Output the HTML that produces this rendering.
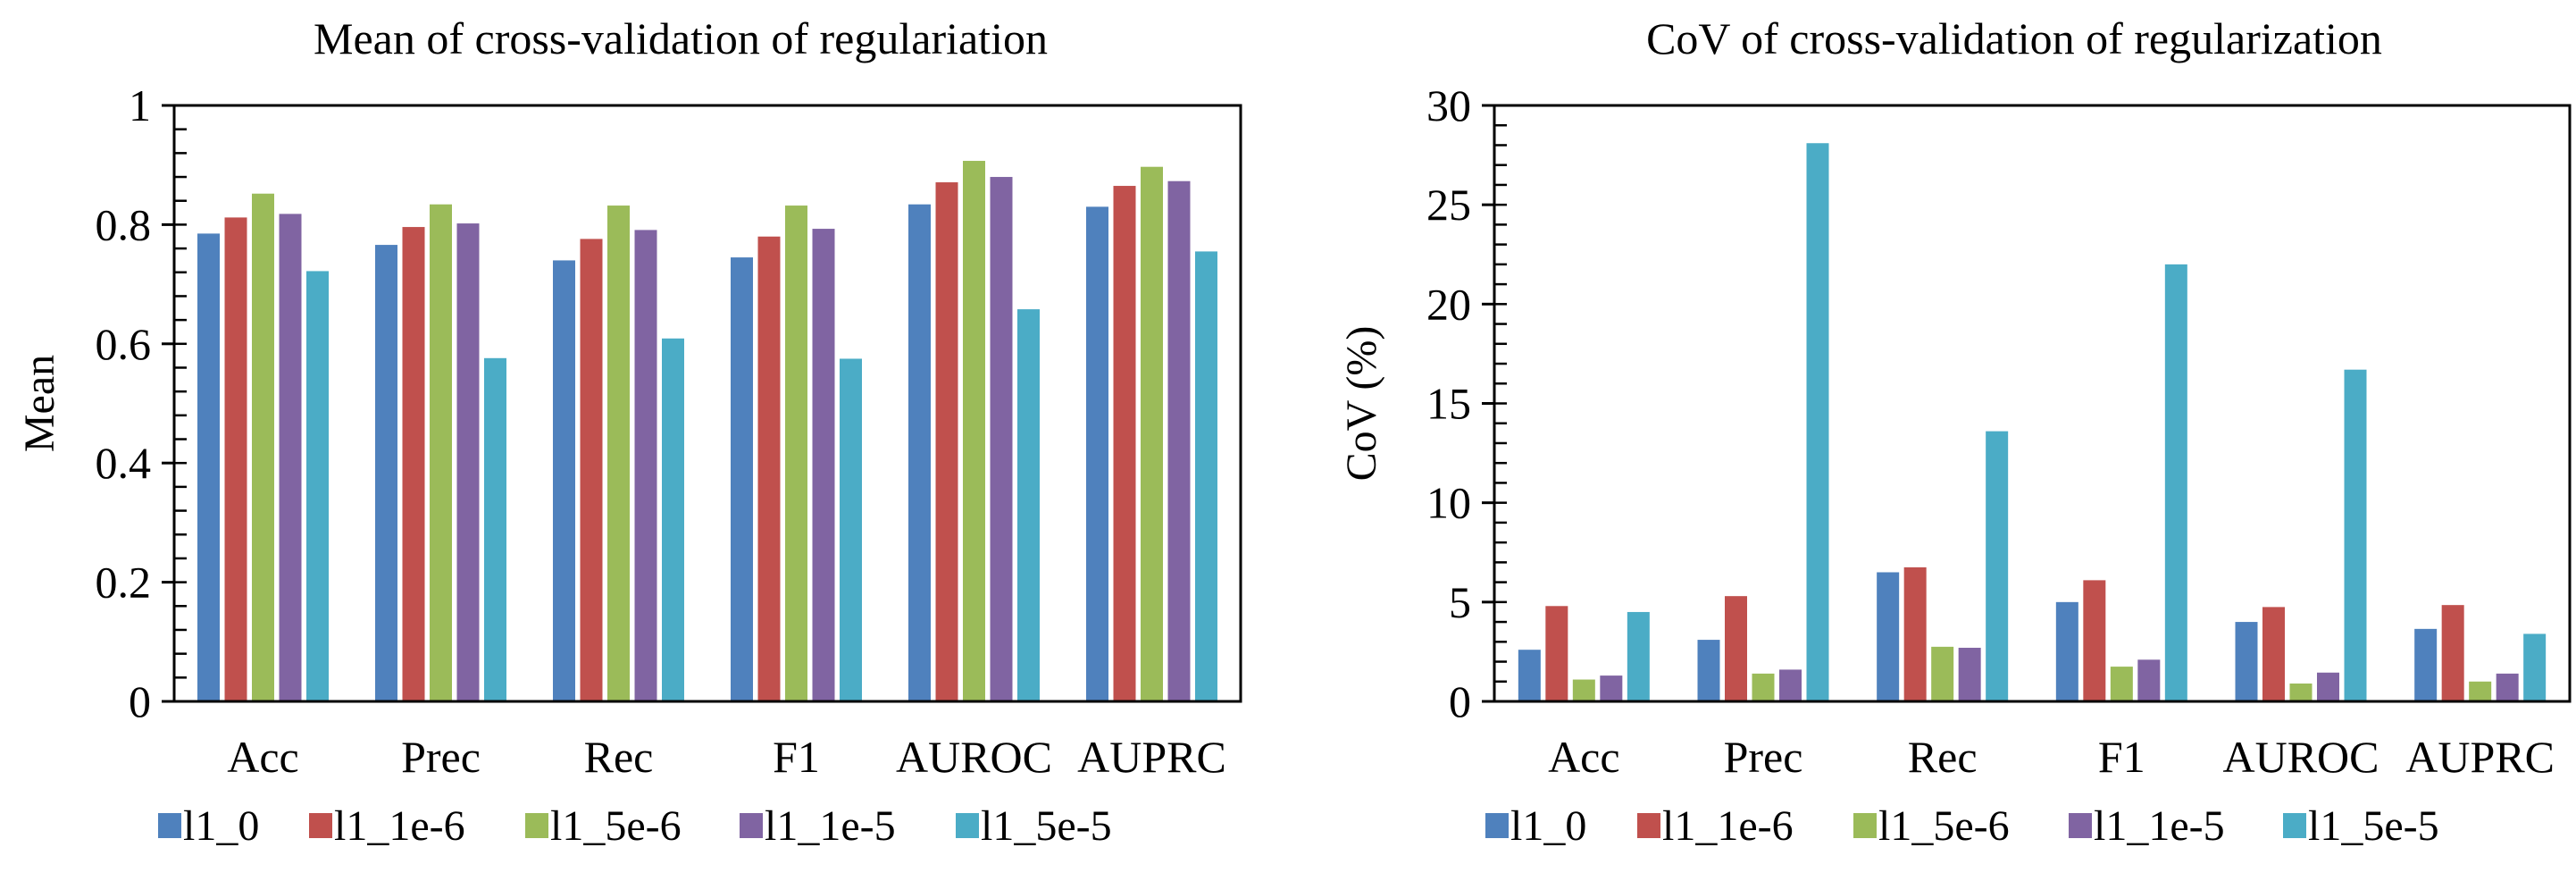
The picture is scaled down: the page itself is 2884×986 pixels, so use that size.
<!DOCTYPE html>
<html><head><meta charset="utf-8"><style>
html,body{margin:0;padding:0;background:#fff}
svg{display:block;font-family:"Liberation Serif",serif}
</style></head><body>
<svg id="chart" width="2884" height="986" viewBox="0 0 2884 986" xmlns="http://www.w3.org/2000/svg"></svg>
<script>
const categories = ["Acc","Prec","Rec","F1","AUROC","AUPRC"];
const seriesNames = ["l1_0","l1_1e-6","l1_5e-6","l1_1e-5","l1_5e-5"];
const colors = ["#4F81BD","#C0504D","#9BBB59","#8064A2","#4BACC6"];
const meanL1_0   = [0.785,0.766,0.740,0.745,0.834,0.830];
const meanL1_1e6 = [0.812,0.796,0.776,0.780,0.871,0.865];
const meanL1_5e6 = [0.852,0.834,0.832,0.832,0.907,0.897];
const meanL1_1e5 = [0.818,0.802,0.791,0.793,0.880,0.873];
const meanL1_5e5 = [0.722,0.576,0.609,0.575,0.658,0.755];
const covL1_0   = [2.6,3.1,6.5,5.0,4.0,3.65];
const covL1_1e6 = [4.8,5.3,6.75,6.1,4.75,4.85];
const covL1_5e6 = [1.1,1.4,2.75,1.75,0.9,1.0];
const covL1_1e5 = [1.3,1.6,2.7,2.1,1.45,1.4];
const covL1_5e5 = [4.5,28.1,13.6,22.0,16.7,3.4];
const meanTicks = ["0","0.2","0.4","0.6","0.8","1"];
const covTicks = ["0","5","10","15","20","25","30"];

const NS="http://www.w3.org/2000/svg";
const svg=document.getElementById('chart');
function mk(tag,attrs,parent){const e=document.createElementNS(NS,tag);for(const k in attrs)e.setAttribute(k,attrs[k]);(parent||svg).appendChild(e);return e;}

function drawChart(cfg){
  const g=mk('g',{});
  
  
  const {x0,x1,y0,y1,max}=cfg;
  const yS=v=>y1-(v/max)*(y1-y0);
  const gw=(x1-x0)/categories.length;
  const bw=25, step=30.5;
  const t=mk('text',{x:(x0+x1)/2+cfg.titleDx,y:60,'font-size':50,'text-anchor':'middle',fill:'#000'},g);
  t.textContent=cfg.title;
  
  
  const yl=mk('text',{x:0,y:0,'font-size':48,'text-anchor':'middle',transform:`translate(${cfg.ylx},${(y0+y1)/2}) rotate(-90)`},g);
  yl.textContent=cfg.ylabel;
  
  
  cfg.series.forEach((arr,si)=>{
    arr.forEach((v,ci)=>{
      const cx=x0+gw*(ci+0.5);
      const bx=cx-2*step-bw/2+si*step;
      const r=mk('rect',{x:bx,y:yS(v),width:bw,height:y1-yS(v),fill:colors[si]},g);
      
      
    });
  });
  const fr=mk('rect',{x:x0,y:y0,width:x1-x0,height:y1-y0,fill:'none',stroke:'#000','stroke-width':3},g);
  
  
  const n=cfg.ticks.length-1;
  cfg.ticks.forEach((lab,i)=>{
    const v=max*i/n, y=yS(v);
    mk('line',{x1:x0-14,x2:x0,y1:y,y2:y,stroke:'#000','stroke-width':3},g);
    const tl=mk('text',{x:x0-26,y:y+17,'font-size':50,'text-anchor':'end'},g);
    tl.textContent=lab;
    
    
  });
  for(let k=0;k<=cfg.minorN;k++){
    const y=yS(max*k/cfg.minorN);
    mk('line',{x1:x0,x2:x0+14,y1:y,y2:y,stroke:'#000','stroke-width':2.5},g);
  }
  categories.forEach((c,ci)=>{
    const cl=mk('text',{x:x0+gw*(ci+0.5),y:864,'font-size':50,'text-anchor':'middle'},g);
    cl.textContent=c;
    
    
  });
  seriesNames.forEach((s,si)=>{
    const lx=cfg.legX[si];
    const lg=mk('g',{},g);
    
    
    mk('rect',{x:lx,y:910,width:26,height:28,fill:colors[si]},lg);
    const lt=mk('text',{x:lx+28,y:940,'font-size':48},lg);
    lt.textContent=s;
  });
}
drawChart({name:'mean-chart',title:'Mean of cross-validation of regulariation',titleDx:-30,ylabel:'Mean',ylx:60,
  x0:195,x1:1389,y0:118,y1:785,max:1,ticks:meanTicks,minorN:25,
  series:[meanL1_0,meanL1_1e6,meanL1_5e6,meanL1_1e5,meanL1_5e5],legX:[177,346,588,828,1070]});
drawChart({name:'cov-chart',title:'CoV of cross-validation of regularization',titleDx:-20,ylabel:'CoV (%)',ylx:1540,
  x0:1673,x1:2877,y0:118,y1:785,max:30,ticks:covTicks,minorN:30,
  series:[covL1_0,covL1_1e6,covL1_5e6,covL1_1e5,covL1_5e5],legX:[1663,1833,2075,2316,2556]});
</script>
</body></html>
